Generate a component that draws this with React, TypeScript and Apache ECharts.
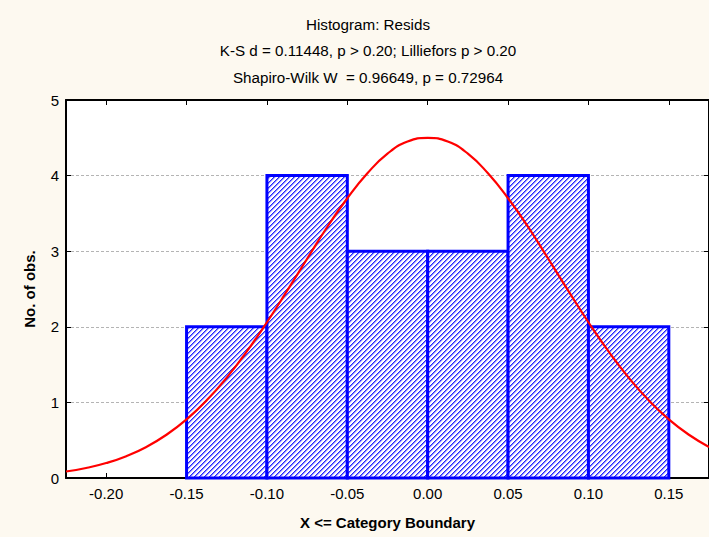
import React, { useEffect, useRef } from "react";
import * as echarts from "echarts";

// Histogram bins of the residuals: lower / upper boundary and observed count
const binStart = [-0.15, -0.1, -0.05, 0.0, 0.05, 0.1];
const binEnd = [-0.1, -0.05, 0.0, 0.05, 0.1, 0.15];
const counts = [2, 4, 3, 3, 4, 2];

// Expected-normal curve (expected number of observations per bin)
const curveX = [
  -0.225, -0.2125, -0.2, -0.1875, -0.175, -0.1625, -0.15, -0.1375, -0.125, -0.1125,
  -0.1, -0.0875, -0.075, -0.0625, -0.05, -0.0375, -0.025, -0.0125, 0.0, 0.0125,
  0.025, 0.0375, 0.05, 0.0625, 0.075, 0.0875, 0.1, 0.1125, 0.125, 0.1375,
  0.15, 0.1625, 0.175,
];
const curveY = [
  0.086, 0.132, 0.198, 0.289, 0.411, 0.572, 0.776, 1.027, 1.328, 1.674,
  2.06, 2.475, 2.9, 3.32, 3.7, 4.03, 4.29, 4.45, 4.5, 4.45,
  4.29, 4.03, 3.7, 3.32, 2.9, 2.475, 2.06, 1.674, 1.328, 1.027,
  0.776, 0.572, 0.411,
];

// Axis ticks
const xTickValues = [-0.2, -0.15, -0.1, -0.05, 0.0, 0.05, 0.1, 0.15];
const titleLines = [
  "Histogram: Resids",
  "K-S d = 0.11448, p > 0.20; Lilliefors p > 0.20",
  "Shapiro-Wilk W  = 0.96649, p = 0.72964",
];

const FONT = "'Liberation Sans', Arial, sans-serif";

// Small repeating tile with a "/" diagonal stripe for the bar fill
function makeHatchTile(): HTMLCanvasElement {
  const n = 5;
  const shades = ["#2424ff", "#8484ff", "#dcdcff", "#ffffff", "#ffffff"];
  const c = document.createElement("canvas");
  c.width = n;
  c.height = n;
  const ctx = c.getContext("2d")!;
  for (let y = 0; y < n; y++) {
    for (let x = 0; x < n; x++) {
      ctx.fillStyle = shades[(x + y) % n];
      ctx.fillRect(x, y, 1, 1);
    }
  }
  return c;
}

export default function App() {
  const ref = useRef<HTMLDivElement>(null);

  useEffect(() => {
    if (!ref.current) return;
    const chart = echarts.init(ref.current, null, { renderer: "svg" });
    const tile = makeHatchTile();
    const hatch: any = {
      image: tile,
      repeat: "repeat",
      imageWidth: tile.width,
      imageHeight: tile.height,
    };

    const tickStyle = { show: true, inside: true, length: 5, lineStyle: { color: "#000", width: 1 } };
    const axisLineStyle = { show: true, lineStyle: { color: "#000", width: 2 } };
    const labelFont = { color: "#000", fontSize: 15, fontFamily: FONT };
    const nameFont = { fontWeight: "bold", fontSize: 15, color: "#000", fontFamily: FONT };

    chart.setOption({
      animation: false,
      backgroundColor: "#FDF9F0",
      textStyle: { fontFamily: FONT },
      graphic: titleLines.map((t, i) => ({
        type: "text",
        x: 368,
        y: 24 + i * 26.5,
        style: {
          text: t,
          fill: "#000",
          font: `15.2px ${FONT}`,
          textAlign: "center",
          textVerticalAlign: "middle",
        },
      })),
      grid: {
        show: true,
        left: 66,
        top: 100,
        right: 0,
        bottom: 59,
        backgroundColor: "#ffffff",
        borderWidth: 0,
      },
      xAxis: [
        {
          type: "value",
          min: -0.225,
          max: 0.175,
          position: "bottom",
          axisLine: { ...axisLineStyle, onZero: false },
          axisTick: { ...tickStyle, customValues: xTickValues },
          axisLabel: {
            ...labelFont,
            customValues: xTickValues,
            formatter: (v: number) => v.toFixed(2),
            margin: 8,
          },
          splitLine: { show: false },
          name: "X <= Category Boundary",
          nameLocation: "middle",
          nameGap: 37,
          nameTextStyle: nameFont,
        },
        {
          type: "value",
          min: -0.225,
          max: 0.175,
          position: "top",
          axisLine: { ...axisLineStyle, onZero: false },
          axisTick: { ...tickStyle, customValues: xTickValues },
          axisLabel: { show: false },
          splitLine: { show: false },
        },
      ],
      yAxis: [
        {
          type: "value",
          min: 0,
          max: 5,
          interval: 1,
          position: "left",
          axisLine: { ...axisLineStyle, onZero: false },
          axisTick: tickStyle,
          axisLabel: { ...labelFont, margin: 7 },
          splitLine: { show: true, lineStyle: { color: "#b4b4b4", type: [3, 2], width: 1 } },
          name: "No. of obs.",
          nameLocation: "middle",
          nameRotate: 90,
          nameGap: 29,
          nameTextStyle: nameFont,
        },
        {
          type: "value",
          min: 0,
          max: 5,
          interval: 1,
          position: "right",
          axisLine: { ...axisLineStyle, onZero: false },
          axisTick: tickStyle,
          axisLabel: { show: false },
          splitLine: { show: false },
        },
      ],
      series: [
        {
          type: "custom",
          xAxisIndex: 0,
          yAxisIndex: 0,
          encode: { x: [0, 1], y: 2 },
          data: binStart.map((s, i) => [s, binEnd[i], counts[i]]),
          renderItem: (_params: any, api: any) => {
            const topLeft = api.coord([api.value(0), api.value(2)]);
            const bottomRight = api.coord([api.value(1), 0]);
            return {
              type: "rect",
              shape: {
                x: topLeft[0],
                y: topLeft[1],
                width: bottomRight[0] - topLeft[0],
                height: bottomRight[1] - topLeft[1],
              },
              style: { fill: hatch, stroke: "#0000ff", lineWidth: 3 },
            };
          },
          z: 2,
        },
        {
          type: "line",
          xAxisIndex: 0,
          yAxisIndex: 0,
          data: curveX.map((x, i) => [x, curveY[i]]),
          smooth: true,
          showSymbol: false,
          clip: true,
          lineStyle: { color: "#ff0000", width: 2.2 },
          z: 3,
        },
      ],
    });

    return () => chart.dispose();
  }, []);

  return (
    <div
      ref={ref}
      style={{ position: "fixed", left: 0, top: 0, width: 709, height: 537 }}
    />
  );
}
